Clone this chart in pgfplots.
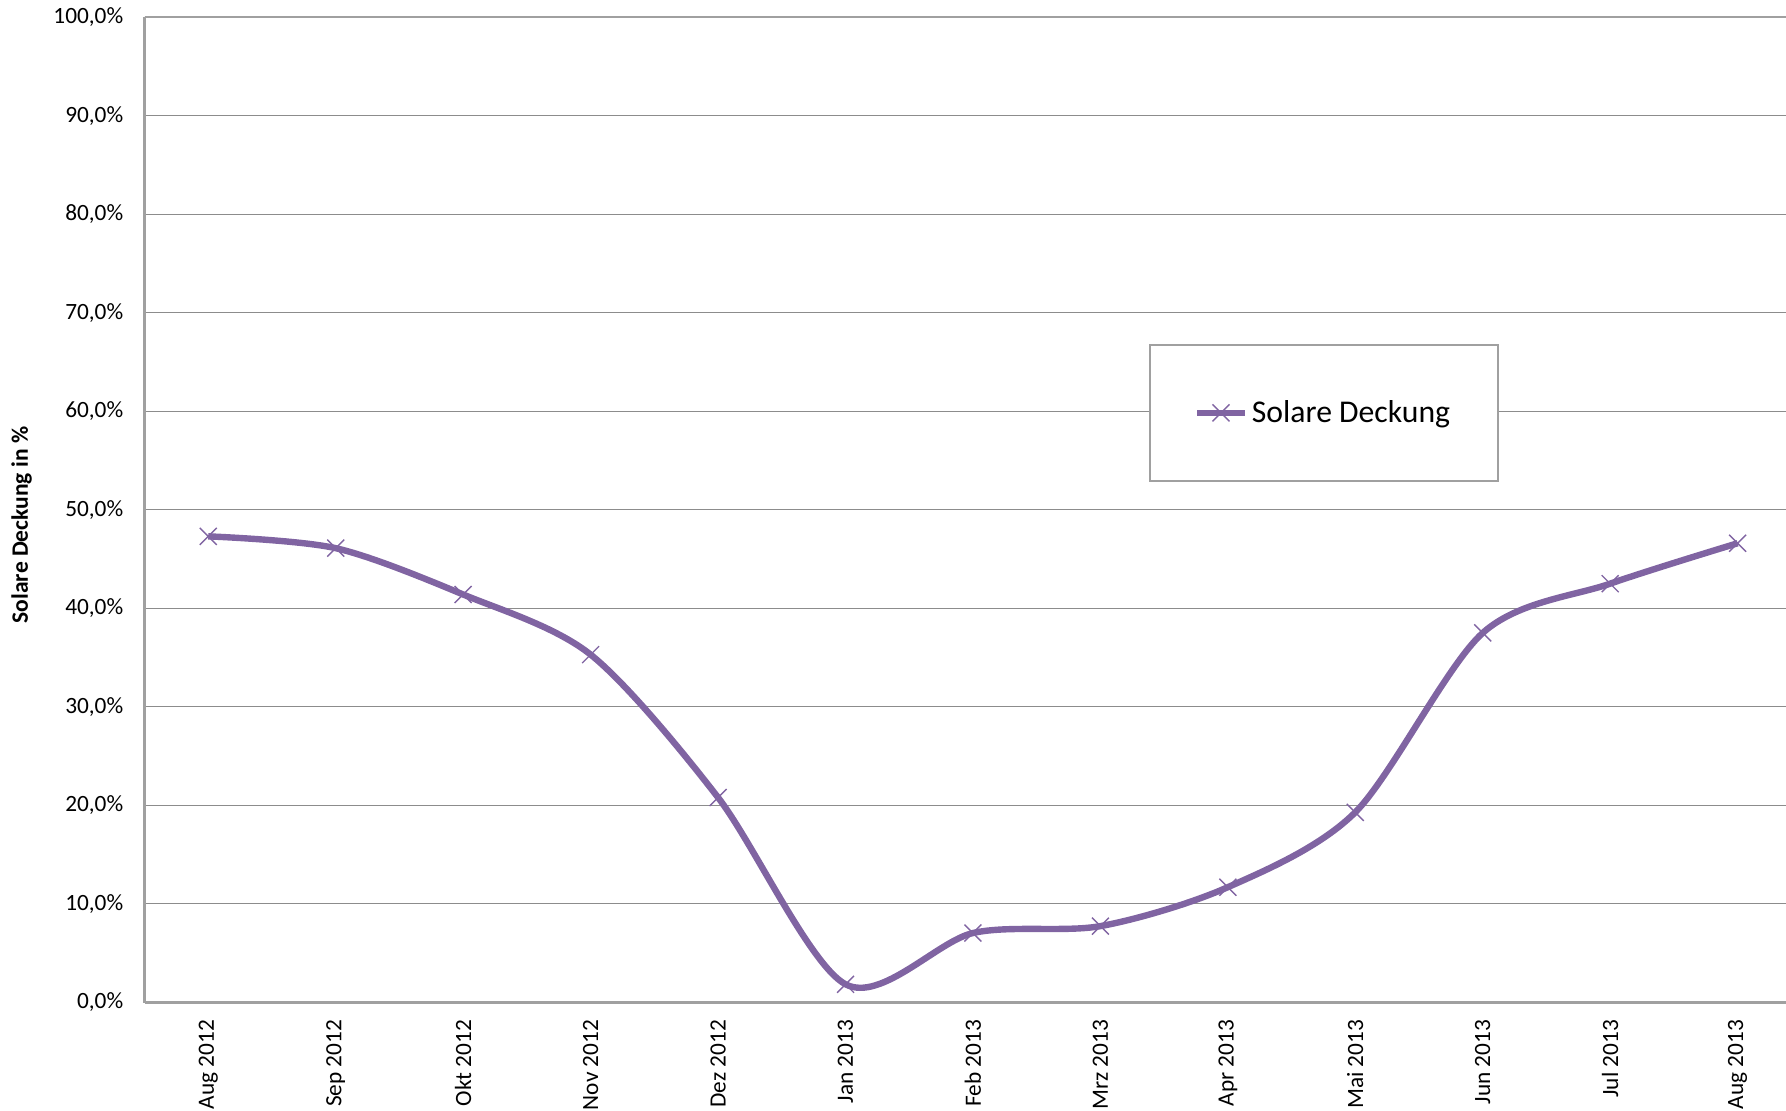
\documentclass[border=0pt]{standalone}
\usepackage{fontspec}
\setmainfont{Carlito}
\usepackage{pgfplots}
\pgfplotsset{compat=1.18}
\definecolor{lila}{HTML}{8064A2}
\definecolor{rahmen}{HTML}{A0A0A0}
\definecolor{gitter}{HTML}{8C8C8C}
\begin{document}
\begin{tikzpicture}
\begin{axis}[
  at={(0,0)}, anchor=south west,
  scale only axis,
  width=820.7bp, height=492.75bp,
  xmin=-0.5, xmax=12.38,
  ymin=0, ymax=100,
  axis x line*=box, axis y line*=left,
  axis line style={rahmen, line width=1.2bp},
  major tick length=0pt,
  xtick={0,...,12},
  xticklabels={Aug 2012,Sep 2012,Okt 2012,Nov 2012,Dez 2012,Jan 2013,Feb 2013,Mrz 2013,Apr 2013,Mai 2013,Jun 2013,Jul 2013,Aug 2013},
  xticklabel style={rotate=90, anchor=east, inner sep=0pt, xshift=-8.5bp, font=\fontsize{11.7}{13}\selectfont},
  ytick={0,10,...,100},
  yticklabel={\pgfmathprintnumber[fixed,fixed zerofill,precision=1,use comma]{\tick}\%},
  yticklabel style={inner sep=0pt, xshift=-10.5bp, font=\fontsize{11.7}{13}\selectfont},
  /pgf/number format/assume math mode=true,
  ymajorgrids,
  grid style={gitter, line width=0.5bp},
  ylabel={\textbf{Solare Deckung in \%}},
  ylabel style={at={(axis description cs:-0.0749,0.4845)}, anchor=center, rotate=0, font=\fontsize{11.8}{13}\selectfont},
  legend style={at={(axis description cs:0.612,0.668)}, anchor=north west,
    draw=rahmen, line width=0.8bp, inner xsep=22bp, inner ysep=25.7bp,
    font=\fontsize{15.9}{18}\selectfont, cells={anchor=west}},
  legend image code/.code={\draw[mark repeat=2,mark phase=2,#1] plot coordinates {(0cm,0cm) (0.42cm,0cm) (0.84cm,0cm)};},
]
\addplot[lila, line width=3.2bp, smooth, tension=0.5, mark=x, mark size=6bp,
  mark options={line width=0.7bp, solid}] coordinates {
  (0,47.3)
  (1,46.1)
  (2,41.4)
  (3,35.3)
  (4,20.8)
  (5,1.85)
  (6,7.05)
  (7,7.75)
  (8,11.7)
  (9,19.3)
  (10,37.5)
  (11,42.5)
  (12,46.6)
};
\addlegendentry{Solare Deckung}
\end{axis}
\pgfresetboundingbox
\useasboundingbox (-72.3bp,-54.25bp) rectangle (820.7bp,501.25bp);
\end{tikzpicture}
\end{document}
